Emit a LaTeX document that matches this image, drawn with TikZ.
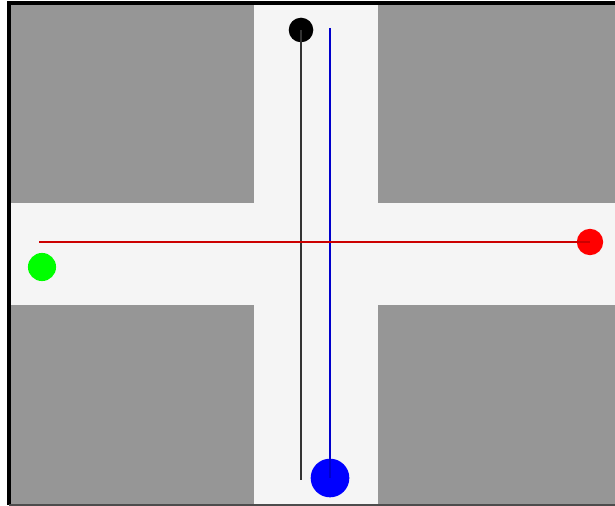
\documentclass[tikz,border=0pt]{standalone}
\usepackage{tikz}
\usetikzlibrary{positioning}
\usepackage{xcolor}
\definecolor{block}{RGB}{150,150,150}
\definecolor{road}{RGB}{245,245,245}

\begin{document}
\begin{tikzpicture}[x=0.02cm, y=-0.02cm,
  dot/.style={circle, inner sep=0pt, minimum size=#1},
  path/.style={line width=0.7pt}
]
\useasboundingbox (0,0) rectangle (615,506);
\fill[white] (0,0) rectangle (615,506);

% road area and blocks
\fill[road] (10,3) rectangle (615,505);
\fill[block] (10,3) rectangle (254,203);
\fill[block] (378,3) rectangle (615,203);
\fill[block] (10,305) rectangle (254,505);
\fill[block] (378,305) rectangle (615,505);
\draw[line width=2pt] (9,505) -- (9,3) -- (615,3);
\draw[line width=1pt, black!70] (9,505) -- (615,505);

% agents
\node[dot=14, fill=black] (black) at (301,30) {};
\node[dot=22, fill=blue] (blue) at (330,478) {};
\node[dot=15, fill=red] (red) at (590,242) {};
\node[dot=16, fill=green] (green) at (42,267) {};

\coordinate (blackend) at (301,480);
\coordinate (bluestart) at (330,28);
\coordinate (redstart) at (39,242);

\draw[path, black!80] (black.center) -- (blackend);
\draw[path, blue!80!black] (bluestart) -- (blue.center);
\draw[path, red!80!black] (redstart) -- (red.center);
\end{tikzpicture}
\end{document}
